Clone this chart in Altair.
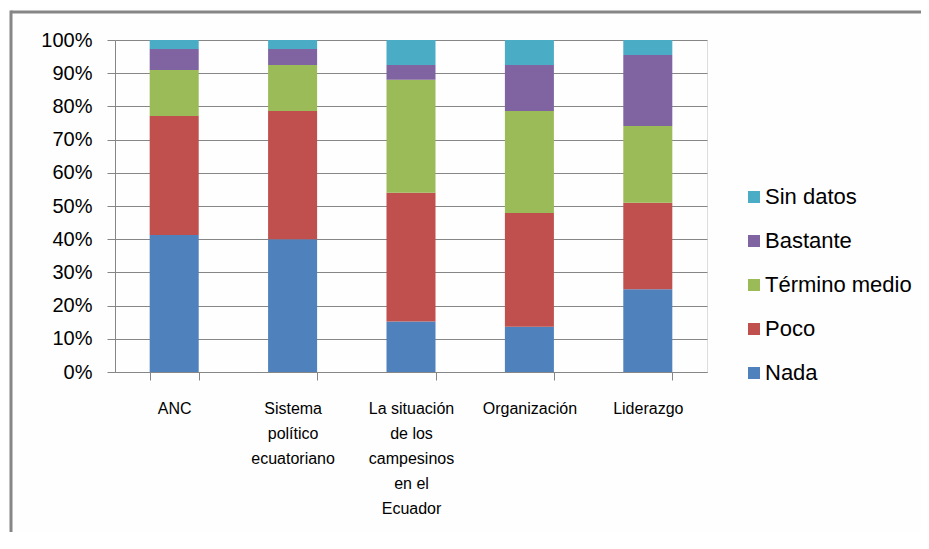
import json
import altair as alt
import pandas as pd

categories = ["ANC", "Sistema político ecuatoriano",
              "La situación de los campesinos en el Ecuador",
              "Organización", "Liderazgo"]
label_lines = [["ANC"], ["Sistema", "político", "ecuatoriano"],
               ["La situación", "de los", "campesinos", "en el", "Ecuador"],
               ["Organización"], ["Liderazgo"]]

series = ["Nada", "Poco", "Término medio", "Bastante", "Sin datos"]
nada = [41.3, 40.0, 15.2, 13.6, 24.9]
poco = [35.8, 38.6, 38.8, 34.3, 26.1]
termino = [13.9, 13.9, 34.0, 30.7, 23.1]
bastante = [6.3, 4.8, 4.5, 13.9, 21.4]
sin_datos = [2.7, 2.7, 7.5, 7.5, 4.5]
colors = ["#4F81BD", "#C0504D", "#9BBB59", "#8064A2", "#4BACC6"]
y_ticks = [0, 10, 20, 30, 40, 50, 60, 70, 80, 90, 100]

rows = []
for s_i, (name, vals) in enumerate(zip(series, [nada, poco, termino, bastante, sin_datos])):
    for cat, v in zip(categories, vals):
        rows.append({"categoria": cat, "serie": name, "valor": v, "orden": s_i})
df = pd.DataFrame(rows)

expr = ""
for cat, lines in zip(categories, label_lines):
    expr += f"datum.value == {json.dumps(cat, ensure_ascii=False)} ? {json.dumps(lines, ensure_ascii=False)} : "
expr += "datum.value"

GREY = "#868686"
FONT = "Liberation Sans"

bars = alt.Chart(df).mark_bar().encode(
    x=alt.X("categoria:N", sort=categories, title=None,
            scale=alt.Scale(paddingInner=0.586, paddingOuter=0.293),
            axis=alt.Axis(labelExpr=expr, labelAngle=0, labelFont=FONT,
                          labelFontSize=16, labelLineHeight=25, labelPadding=20,
                          labelColor="#000000", tickBand="extent", tickSize=8,
                          tickColor=GREY, domainColor=GREY, grid=False,
                          labelAlign="center", labelBaseline="top")),
    y=alt.Y("valor:Q", stack="zero", title=None,
            scale=alt.Scale(domain=[0, 100], nice=False),
            axis=alt.Axis(values=y_ticks, labelExpr="datum.value + '%'",
                          labelFont=FONT, labelFontSize=20, labelPadding=15,
                          labelColor="#000000", tickSize=8, tickColor=GREY,
                          domainColor=GREY, gridColor=GREY, gridWidth=1)),
    color=alt.Color("serie:N",
                    scale=alt.Scale(domain=series[::-1], range=colors[::-1]),
                    legend=alt.Legend(title=None, orient="none", legendX=628,
                                      legendY=146, symbolType="square",
                                      symbolSize=144, symbolStrokeWidth=0,
                                      labelFont=FONT, labelFontSize=22,
                                      labelColor="#000000", labelOffset=0,
                                      rowPadding=22, padding=0)),
    order=alt.Order("orden:Q", sort="ascending"),
)

frame_data = alt.Data(values=[{"f": 1}])
frame_top = alt.Chart(frame_data).mark_rule(stroke=GREY, strokeWidth=3).encode(
    x=alt.value(-104), x2=alt.value(806), y=alt.value(-28),
)
frame_left = alt.Chart(frame_data).mark_rule(stroke=GREY, strokeWidth=3).encode(
    x=alt.value(-104), y=alt.value(-29.5), y2=alt.value(800),
)

chart = alt.layer(frame_top, frame_left, bars).properties(
    width=592, height=332,
    autosize=alt.AutoSizeParams(type="none"),
    padding={"left": 107, "top": 32, "right": 214, "bottom": 160},
).configure_view(stroke=None).configure(background="#FEFEFE")

chart.save("out.html", embed_options={"renderer": "svg", "actions": False})
